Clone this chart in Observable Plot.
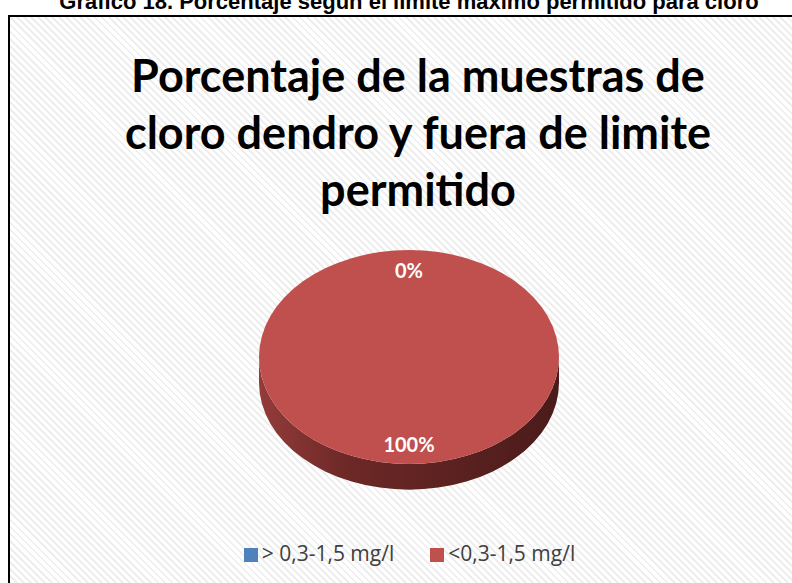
<!DOCTYPE html>
<html>
<head>
<meta charset="utf-8">
<script src="https://cdn.jsdelivr.net/npm/d3@7"></script>
<script src="https://cdn.jsdelivr.net/npm/@observablehq/plot@0.6"></script>
<style>
  html, body { margin: 0; padding: 0; background: #fff; width: 792px; height: 583px; overflow: hidden; }
  #header { position: absolute; left: 0; width: 818px; top: -9px; text-align: center; line-height: 22px;
    font-family: "Liberation Sans Narrow", "Liberation Sans", sans-serif; font-weight: bold; font-size: 22px; color: #000; white-space: nowrap; }
  #box { position: absolute; left: 8px; top: 15px; width: 820px; height: 600px; border: 2px solid #000;
    background: repeating-linear-gradient(45deg, #ffffff 0px, #ffffff 3px, #eeeeee 3px, #eeeeee 5px); }
  #title { position: absolute; left: 0; width: 836px; top: 47px; text-align: center;
    font-family: Lato, "Open Sans", sans-serif; font-weight: bold; font-size: 45px; line-height: 57px; color: #000; }
  #chart { position: absolute; left: 0; top: 0; }
  #legend { position: absolute; top: 538px; left: 0; width: 819px; text-align: center; font-family: "Open Sans", Lato, sans-serif; font-size: 21px; line-height: 30px; color: #404040; white-space: nowrap; }
  #legend span.item { display: inline-block; margin: 0 18px; }
  #legend span.sw { display: inline-block; width: 14px; height: 14px; margin-right: 4px; vertical-align: -1px; }
</style>
</head>
<body>
<div id="header"></div>
<div id="box"></div>
<div id="title"></div>
<div id="chart"></div>
<div id="legend"></div>
<script>
const headerText = "Gráfico 18. Porcentaje según el límite máximo permitido para cloro";
const titleLines = ["Porcentaje de la muestras de", "cloro dendro y fuera de limite", "permitido"];
const categories = ["> 0,3-1,5 mg/l", "<0,3-1,5 mg/l"];
const values = [0, 100];
const labels = ["0%", "100%"];
const colors = ["#4F81BD", "#C0504D"];

document.getElementById("header").textContent = headerText;
document.getElementById("title").innerHTML = titleLines.map(t => `<div>${t}</div>`).join("");

const data = categories.map((c, i) => ({category: c, value: values[i], label: labels[i]}));
const arcs = d3.pie().sort(null).value(d => d.value)(data);

const depth = 0.24; // thickness in y-domain units

function pie3d(index, scales, vals, dims, ctx) {
  const sx = scales.x, sy = scales.y;
  const cx = sx(0), cy = sy(0);
  const rx = sx(1) - sx(0), ry = sy(-1) - sy(0);
  const dz = sy(-1 - depth) - sy(-1);
  const svg = d3.create("svg:g");
  const defs = svg.append("defs");
  const grad = defs.append("linearGradient").attr("id", "sideGrad").attr("x1", "0").attr("x2", "1").attr("y1", "0").attr("y2", "0");
  grad.append("stop").attr("offset", "0%").attr("stop-color", "#933c3a");
  grad.append("stop").attr("offset", "30%").attr("stop-color", "#6c2826");
  grad.append("stop").attr("offset", "100%").attr("stop-color", "#4a1b1a");
  const side = `M${cx - rx},${cy} A${rx},${ry} 0 0 0 ${cx + rx},${cy} L${cx + rx},${cy + dz} A${rx},${ry} 0 0 1 ${cx - rx},${cy + dz} Z`;
  svg.append("path").attr("d", side).attr("fill", "url(#sideGrad)");
  for (const a of arcs) {
    if (a.endAngle - a.startAngle <= 0) continue;
    const i = data.indexOf(a.data);
    if (a.endAngle - a.startAngle >= 2 * Math.PI - 1e-9) {
      svg.append("ellipse").attr("cx", cx).attr("cy", cy).attr("rx", rx).attr("ry", ry).attr("fill", colors[i]);
    } else {
      const pts = d3.range(0, 101).map(k => {
        const t = a.startAngle + (a.endAngle - a.startAngle) * k / 100;
        return [sx(Math.sin(t)), sy(Math.cos(t))];
      });
      svg.append("path").attr("d", `M${cx},${cy}L` + pts.join("L") + "Z").attr("fill", colors[i]);
    }
  }
  for (const a of arcs) {
    const t = (a.startAngle + a.endAngle) / 2;
    const r = 0.81;
    svg.append("text").attr("x", sx(r * Math.sin(t))).attr("y", sy(r * Math.cos(t)))
      .attr("text-anchor", "middle").attr("dominant-baseline", "central")
      .attr("fill", "#fff").attr("font-weight", "bold").attr("font-size", 20)
      .attr("font-family", "Lato, 'Open Sans', sans-serif")
      .text(a.data.label);
  }
  return svg.node();
}

const plot = Plot.plot({
  width: 792,
  height: 583,
  marginLeft: 259, marginRight: 792 - 559,
  marginTop: 250, marginBottom: 583 - 464,
  x: {domain: [-1, 1], axis: null},
  y: {domain: [-1, 1], axis: null},
  style: {background: "transparent", overflow: "visible"},
  marks: [pie3d]
});
document.getElementById("chart").appendChild(plot);

const legend = document.getElementById("legend");
legend.innerHTML = categories.map((c, i) =>
  `<span class="item"><span class="sw" style="background:${colors[i]}"></span>${c}</span>`).join("");
</script>
</body>
</html>
